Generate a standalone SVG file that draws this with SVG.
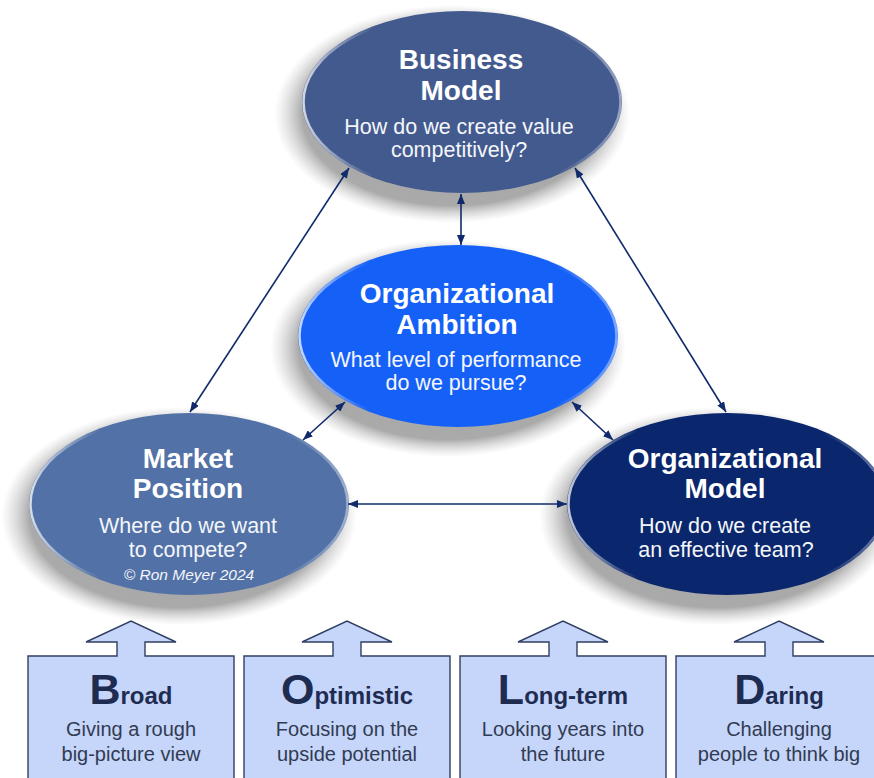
<svg xmlns="http://www.w3.org/2000/svg" width="874" height="778" viewBox="0 0 874 778">
  <style>
    .title { font-family: "Liberation Sans", Arial, sans-serif; font-weight: bold; font-size: 28px; fill: #ffffff; text-anchor: middle; }
    .sub { font-family: "Liberation Sans", Arial, sans-serif; font-size: 21.5px; fill: #f4f6fb; text-anchor: middle; }
    .copy { font-family: "Liberation Sans", Arial, sans-serif; font-style: italic; font-size: 15.5px; fill: #f4f6fb; text-anchor: middle; }
    .box { fill: #c6d6fa; stroke: #2f3f62; stroke-width: 1.4; }
    .boxhead { font-family: "Liberation Sans", Arial, sans-serif; font-weight: bold; font-size: 24px; fill: #1f2c52; text-anchor: middle; }
    .boxhead .big { font-size: 43px; }
    .boxtext { font-family: "Liberation Sans", Arial, sans-serif; font-size: 20px; fill: #313b52; text-anchor: middle; }
    .link { stroke: #102a6c; stroke-width: 1.6; fill: none; marker-start: url(#head); marker-end: url(#head); }
    .rim { fill: none; stroke: url(#rimGrad); stroke-width: 2.5; }
    .shadow { fill: url(#shadowGrad); }
  </style>
  <defs>
    <!-- soft drop shadow painted as a fading ellipse -->
    <radialGradient id="shadowGrad" cx="0.5" cy="0.5" r="0.5">
      <stop offset="0" stop-color="#555555" stop-opacity="0.55"/>
      <stop offset="0.84" stop-color="#555555" stop-opacity="0.5"/>
      <stop offset="0.92" stop-color="#777777" stop-opacity="0.25"/>
      <stop offset="1" stop-color="#999999" stop-opacity="0"/>
    </radialGradient>
    <linearGradient id="rimGrad" x1="0" y1="0" x2="1" y2="0">
      <stop offset="0" stop-color="#ffffff" stop-opacity="0.75"/>
      <stop offset="0.22" stop-color="#ffffff" stop-opacity="0"/>
      <stop offset="0.8" stop-color="#ffffff" stop-opacity="0"/>
      <stop offset="1" stop-color="#ffffff" stop-opacity="0.45"/>
    </linearGradient>
    <marker id="head" viewBox="0 0 10 8" refX="10" refY="4" markerWidth="10" markerHeight="8" markerUnits="userSpaceOnUse" orient="auto-start-reverse">
      <path d="M0,0 L10,4 L0,8 Z" fill="#102a6c"/>
    </marker>
    <!-- box with an upward arrow on top, centred on x=0 -->
    <path id="arrowBox" d="M-103,656 H-14 V642 H-45 L0,621 L45,642 H14 V656 H103 V790 H-103 Z"/>
  </defs>

  <rect width="874" height="778" fill="#ffffff"/>

  <!-- shadows under the four ellipses -->
  <ellipse class="shadow" cx="452" cy="114" rx="178" ry="109"/>
  <ellipse class="shadow" cx="179" cy="516" rx="178" ry="109"/>
  <ellipse class="shadow" cx="717" cy="516" rx="178" ry="109"/>
  <ellipse class="shadow" cx="448" cy="348" rx="178" ry="109"/>

  <!-- Business Model -->
  <g id="business-model">
    <ellipse cx="462" cy="102" rx="160" ry="91" fill="#435a8e"/>
    <ellipse class="rim" cx="462" cy="102" rx="158.5" ry="89.5"/>
    <text class="title" x="461" y="69">Business</text>
    <text class="title" x="461" y="100">Model</text>
    <text class="sub" x="459" y="134">How do we create value</text>
    <text class="sub" x="459" y="157">competitively?</text>
  </g>

  <!-- Market Position -->
  <g id="market-position">
    <ellipse cx="189" cy="504" rx="160" ry="91" fill="#5271a6"/>
    <ellipse class="rim" cx="189" cy="504" rx="158.5" ry="89.5"/>
    <text class="title" x="188" y="468">Market</text>
    <text class="title" x="188" y="498">Position</text>
    <text class="sub" x="188" y="533">Where do we want</text>
    <text class="sub" x="188" y="557">to compete?</text>
    <text class="copy" x="189" y="580">© Ron Meyer 2024</text>
  </g>

  <!-- Organizational Model -->
  <g id="organizational-model">
    <ellipse cx="727" cy="504" rx="160" ry="91" fill="#0a266c"/>
    <ellipse class="rim" cx="727" cy="504" rx="158.5" ry="89.5"/>
    <text class="title" x="725" y="468">Organizational</text>
    <text class="title" x="725" y="498">Model</text>
    <text class="sub" x="725" y="533">How do we create</text>
    <text class="sub" x="726" y="557">an effective team?</text>
  </g>

  <!-- Organizational Ambition -->
  <g id="organizational-ambition">
    <ellipse cx="458" cy="336" rx="160" ry="91" fill="#1561f7"/>
    <ellipse class="rim" cx="458" cy="336" rx="158.5" ry="89.5"/>
    <text class="title" x="457" y="303">Organizational</text>
    <text class="title" x="457" y="334">Ambition</text>
    <text class="sub" x="456" y="367">What level of performance</text>
    <text class="sub" x="456" y="390">do we pursue?</text>
  </g>

  <!-- two-way links between the four elements -->
  <g id="connectors">
    <line class="link" x1="349" y1="168" x2="190" y2="412"/>
    <line class="link" x1="575" y1="168" x2="726" y2="412"/>
    <line class="link" x1="461" y1="194" x2="461" y2="245"/>
    <line class="link" x1="345" y1="402" x2="303" y2="440"/>
    <line class="link" x1="572" y1="402" x2="613" y2="440"/>
    <line class="link" x1="348" y1="504" x2="567" y2="504"/>
  </g>

  <!-- Broad -->
  <g id="box-broad">
    <use href="#arrowBox" class="box" transform="translate(131,0)"/>
    <text class="boxhead" x="131" y="704"><tspan class="big">B</tspan>road</text>
    <text class="boxtext" x="131" y="736">Giving a rough</text>
    <text class="boxtext" x="131" y="761">big-picture view</text>
  </g>

  <!-- Optimistic -->
  <g id="box-optimistic">
    <use href="#arrowBox" class="box" transform="translate(347,0)"/>
    <text class="boxhead" x="347" y="704"><tspan class="big">O</tspan>ptimistic</text>
    <text class="boxtext" x="347" y="736">Focusing on the</text>
    <text class="boxtext" x="347" y="761">upside potential</text>
  </g>

  <!-- Long-term -->
  <g id="box-long-term">
    <use href="#arrowBox" class="box" transform="translate(563,0)"/>
    <text class="boxhead" x="563" y="704"><tspan class="big">L</tspan>ong-term</text>
    <text class="boxtext" x="563" y="736">Looking years into</text>
    <text class="boxtext" x="563" y="761">the future</text>
  </g>

  <!-- Daring -->
  <g id="box-daring">
    <use href="#arrowBox" class="box" transform="translate(779,0)"/>
    <text class="boxhead" x="779" y="704"><tspan class="big">D</tspan>aring</text>
    <text class="boxtext" x="779" y="736">Challenging</text>
    <text class="boxtext" x="779" y="761">people to think big</text>
  </g>
</svg>
